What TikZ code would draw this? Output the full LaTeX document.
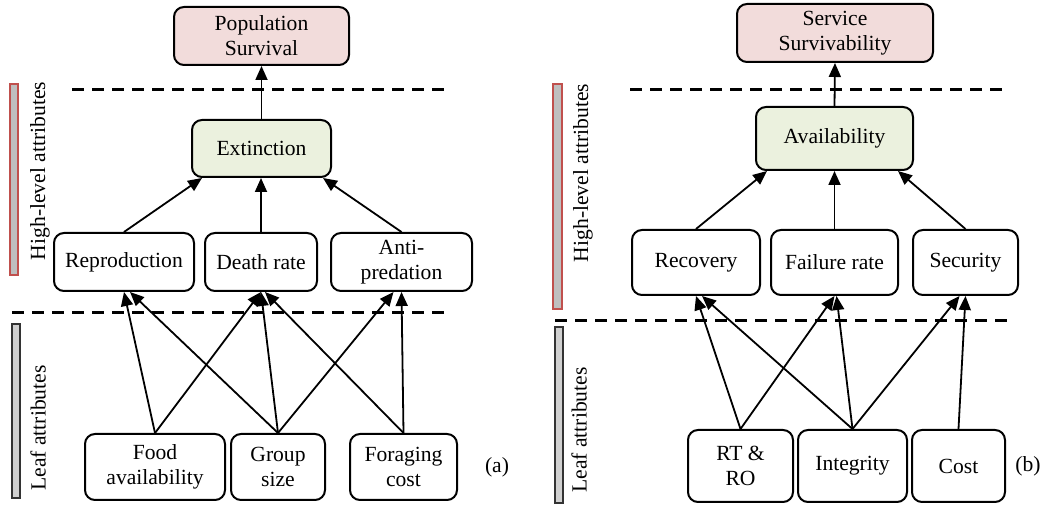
\documentclass[tikz,border=0pt]{standalone}
\usepackage{fontspec}
\setmainfont{Liberation Serif}
\usetikzlibrary{arrows.meta}
\definecolor{pinkfill}{HTML}{F2DCDB}
\definecolor{greenfill}{HTML}{EBF1DE}
\definecolor{barred}{HTML}{C0504D}
\definecolor{bargray}{HTML}{BFBFBF}
\definecolor{barlight}{HTML}{D0D0D0}
\begin{document}
\begin{tikzpicture}[x=0.5pt,y=-0.5pt,
  box/.style={draw,line width=1pt,rounded corners=5pt,align=center,inner sep=0pt,
    font=\rmfamily\fontsize{10.8}{12.5}\selectfont},
  arr/.style={line width=0.9pt,-{Triangle[length=7pt,width=6pt]}},
  sepline/.style={line width=1.5pt,dash pattern=on 6pt off 4pt},
  hibar/.style={draw=barred,fill=bargray,line width=0.8pt},
  leafbar/.style={draw=black!80,fill=barlight,line width=0.8pt},
  sidelab/.style={rotate=90,inner sep=0pt,font=\rmfamily\fontsize{10.8}{12.5}\selectfont},
  tag/.style={inner sep=0pt,font=\rmfamily\fontsize{10.8}{12.5}\selectfont}]
\useasboundingbox (0,0) rectangle (1049,506);

% ---------------- panel (a) ----------------
\draw[hibar] (10,84) rectangle (18,275);
\draw[leafbar] (12,324) rectangle (20,498);
\node[sidelab] (hla) at (40,171) {High-level attributes};
\node[sidelab] (lfa) at (38,428) {Leaf attributes};

\draw[sepline] (72,90) -- (445,90);
\draw[sepline] (12,313) -- (447,313);

\node[box,fill=pinkfill,minimum width=87.5pt,minimum height=29pt] (pop) at (261.5,36) {Population\\Survival};
\node[box,fill=greenfill,minimum width=69.5pt,minimum height=28.5pt] (ext) at (261.5,148.5) {Extinction};
\node[box,minimum width=70pt,minimum height=29pt] (rep) at (124,262) {Reproduction};
\node[box,minimum width=56pt,minimum height=29pt] (dea) at (261,262) {Death rate};
\node[box,minimum width=70.5pt,minimum height=29pt] (ant) at (401.5,262) {Anti-\\predation};
\node[box,minimum width=70pt,minimum height=33pt] (food) at (155,467) {Food\\availability};
\node[box,minimum width=47pt,minimum height=33pt] (grp) at (278,467) {Group\\size};
\node[box,minimum width=53.5pt,minimum height=33pt] (forg) at (403.5,467) {Foraging\\cost};
\node[tag] (la) at (497,467) {(a)};

\draw[arr] (ext.north) -- (pop.south);
\draw[arr] (rep.north) -- ([xshift=5.5pt]ext.south west);
\draw[arr] (dea.north) -- (dea.north |- ext.south);
\draw[arr] (ant.north) -- ([xshift=-4.5pt]ext.south east);
\draw[arr] (food.north) -- (rep.south);
\draw[arr] (food.north) -- (dea.south);
\draw[arr] (grp.north) -- ([xshift=3pt]rep.south);
\draw[arr] (grp.north) -- (dea.south);
\draw[arr] (grp.north) -- ([xshift=-4pt]ant.south);
\draw[arr] (forg.north) -- ([xshift=2pt]dea.south);
\draw[arr] (forg.north) -- (ant.south);

% ---------------- panel (b) ----------------
\draw[hibar] (553,84) rectangle (562,309);
\draw[leafbar] (555,327) rectangle (563,503);
\node[sidelab] (hlb) at (583,173) {High-level attributes};
\node[sidelab] (lfb) at (579,430) {Leaf attributes};

\draw[sepline] (630,90) -- (1003,90);
\draw[sepline] (555,321) -- (1013,321);

\node[box,fill=pinkfill,minimum width=98pt,minimum height=29pt] (srv) at (835,33) {Service\\Survivability};
\node[box,fill=greenfill,minimum width=78.5pt,minimum height=31.5pt] (avl) at (834.5,138.5) {Availability};
\node[box,minimum width=64pt,minimum height=32.5pt] (rec) at (696,262.5) {Recovery};
\node[box,minimum width=63.5pt,minimum height=32.5pt] (fail) at (834.5,262.5) {Failure rate};
\node[box,minimum width=52.5pt,minimum height=32.5pt] (sec) at (965.5,262.5) {Security};
\node[box,minimum width=52.5pt,minimum height=36pt] (rt) at (740.5,466) {RT \&\\RO};
\node[box,minimum width=54.5pt,minimum height=36pt] (integ) at (852.5,466) {Integrity};
\node[box,minimum width=46.5pt,minimum height=36pt] (cost) at (958.5,466) {Cost};
\node[tag] (lb) at (1028,466) {(b)};

\draw[arr] (avl.north) -- (srv.south);
\draw[arr] (rec.north) -- ([xshift=6pt]avl.south west);
\draw[arr] (fail.north) -- (fail.north |- avl.south);
\draw[arr] (sec.north) -- ([xshift=-8pt]avl.south east);
\draw[arr] (rt.north) -- (rec.south);
\draw[arr] (rt.north) -- (fail.south);
\draw[arr] (integ.north) -- ([xshift=3pt]rec.south);
\draw[arr] (integ.north) -- ([xshift=1pt]fail.south);
\draw[arr] (integ.north) -- ([xshift=-3pt]sec.south);
\draw[arr] (cost.north) -- (sec.south);
\end{tikzpicture}
\end{document}
